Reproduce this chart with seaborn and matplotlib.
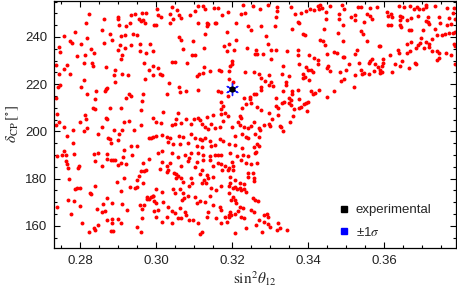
import matplotlib
matplotlib.use("Agg")
import matplotlib.pyplot as plt
import numpy as np
import pandas as pd
import seaborn as sns
from matplotlib.lines import Line2D
from matplotlib.ticker import MultipleLocator

# ---- data: (sin^2 theta12, delta_CP in degrees) ----
pts_top_left = [
    (0.2823, 249.9), (0.2815, 245.9), (0.2864, 247.4), (0.2899, 248.5), (0.2901, 247.4), (0.2904, 244.9),
    (0.2920, 244.8), (0.2931, 245.9), (0.2935, 249.1), (0.2945, 249.9), (0.2960, 246.8), (0.2956, 247.4),
    (0.2964, 250.2), (0.2973, 250.2), (0.2966, 247.1), (0.2971, 245.9), (0.2995, 244.9), (0.2859, 242.8),
    (0.2879, 241.4), (0.2907, 240.6), (0.2918, 240.8), (0.2939, 241.3), (0.2949, 241.0), (0.2934, 236.7),
    (0.2958, 237.1), (0.2984, 237.1), (0.2758, 240.6), (0.2786, 242.1), (0.2819, 239.6), (0.2773, 238.1),
    (0.2778, 237.4), (0.2802, 237.1), (0.2745, 235.9), (0.2748, 233.7), (0.2828, 235.0), (0.2837, 233.0),
    (0.2793, 231.8), (0.2813, 232.2), (0.2864, 237.4), (0.2885, 238.6), (0.2905, 236.4), (0.2900, 234.5),
    (0.2919, 235.3), (0.2910, 232.2), (0.2907, 230.6), (0.2957, 234.0), (0.2974, 233.2), (0.2993, 234.0),
    (0.2810, 228.9), (0.2833, 228.8), (0.2835, 227.8), (0.2767, 228.1), (0.2737, 228.1), (0.2746, 224.1),
    (0.2773, 224.4), (0.2759, 226.4), (0.2812, 221.6), (0.2870, 227.2), (0.2892, 226.1), (0.2890, 223.8),
    (0.2910, 224.4), (0.2927, 223.7), (0.2892, 220.8), (0.2971, 222.3), (0.2982, 225.9), (0.2992, 227.5),
    (0.2992, 223.8), (0.2969, 229.1),
]
pts_top_mid = [
    (0.3004, 251.9), (0.3043, 252.5), (0.3056, 251.5), (0.3036, 249.9), (0.3006, 249.1), (0.3012, 248.4),
    (0.3061, 249.1), (0.3067, 248.2), (0.3046, 247.6), (0.3090, 249.3), (0.3104, 251.0), (0.3110, 253.0),
    (0.3124, 253.0), (0.3128, 251.9), (0.3152, 252.2), (0.3164, 252.3), (0.3175, 249.3), (0.3190, 250.6),
    (0.3228, 253.5), (0.3223, 249.9), (0.3235, 250.2), (0.3255, 253.0), (0.3038, 245.9), (0.3110, 245.9),
    (0.3134, 245.9), (0.3137, 245.4), (0.3135, 244.8), (0.3156, 245.7), (0.3159, 245.7), (0.3210, 245.9),
    (0.3242, 244.8), (0.3250, 243.1), (0.2999, 245.1), (0.3129, 241.4), (0.3186, 242.0), (0.3061, 240.0),
    (0.3065, 238.9), (0.3097, 238.1), (0.3180, 236.3), (0.3192, 236.9), (0.3211, 238.9), (0.3126, 235.2),
    (0.3071, 234.7), (0.3186, 234.0), (0.3204, 234.3), (0.3239, 235.2), (0.3260, 232.9), (0.3096, 232.2),
    (0.3103, 232.2), (0.3041, 229.3), (0.3050, 229.3), (0.3082, 228.9), (0.3199, 229.8), (0.3201, 228.5),
    (0.3194, 227.6), (0.3005, 226.7), (0.3127, 227.1), (0.3112, 224.5), (0.3108, 223.4), (0.3125, 224.7),
    (0.3143, 225.5), (0.3166, 225.8), (0.3170, 225.7), (0.3192, 225.7), (0.3235, 225.2), (0.3257, 225.2),
    (0.3010, 224.2), (0.3017, 223.7), (0.3035, 220.4), (0.3192, 222.1), (0.3203, 221.0),
]
pts_top_right = [
    (0.3294, 253.5), (0.3318, 252.6), (0.3274, 251.8), (0.3319, 250.8), (0.3317, 248.6), (0.3354, 252.5),
    (0.3366, 249.9), (0.3381, 250.3), (0.3395, 251.0), (0.3405, 251.8), (0.3415, 251.6), (0.3427, 252.9),
    (0.3432, 253.5), (0.3430, 252.0), (0.3437, 252.3), (0.3459, 253.0), (0.3488, 253.5), (0.3494, 251.9),
    (0.3482, 249.6), (0.3447, 250.5), (0.3448, 247.6), (0.3481, 247.4), (0.3513, 248.5), (0.3523, 249.1),
    (0.3524, 247.1), (0.3493, 245.1), (0.3373, 246.5), (0.3375, 245.9), (0.3276, 244.8), (0.3314, 244.5),
    (0.3359, 243.4), (0.3388, 241.1), (0.3393, 240.8), (0.3443, 243.4), (0.3479, 241.8), (0.3289, 240.3),
    (0.3294, 237.1), (0.3438, 238.3), (0.3445, 236.6), (0.3432, 238.9), (0.3491, 238.1), (0.3263, 234.6),
    (0.3303, 234.3), (0.3316, 234.3), (0.3345, 234.0), (0.3373, 234.6), (0.3282, 232.9), (0.3265, 232.9),
    (0.3374, 232.3), (0.3403, 232.2), (0.3416, 231.2), (0.3451, 232.9), (0.3469, 233.7), (0.3475, 233.3),
    (0.3491, 231.5), (0.3495, 231.5), (0.3523, 232.9), (0.3302, 230.6), (0.3425, 230.1), (0.3426, 228.6),
    (0.3375, 228.4), (0.3452, 227.5), (0.3451, 226.7), (0.3508, 228.6), (0.3395, 227.2), (0.3399, 226.2),
    (0.3407, 225.9), (0.3386, 224.2), (0.3391, 223.0), (0.3413, 225.2), (0.3458, 225.5), (0.3483, 225.0),
    (0.3500, 226.2), (0.3271, 224.5), (0.3298, 224.0), (0.3333, 227.5), (0.3331, 224.1), (0.3351, 223.4),
    (0.3277, 222.5), (0.3287, 221.3), (0.3302, 220.8), (0.3342, 220.8), (0.3388, 222.4), (0.3403, 221.6),
    (0.3486, 221.3), (0.3494, 222.1), (0.3523, 224.0),
]
pts_far_right = [
    (0.3532, 252.5), (0.3540, 252.5), (0.3564, 252.2), (0.3580, 252.5), (0.3608, 250.6), (0.3611, 248.9),
    (0.3617, 249.6), (0.3620, 248.6), (0.3640, 252.9), (0.3652, 252.7), (0.3667, 253.2), (0.3679, 251.9),
    (0.3687, 252.5), (0.3691, 251.9), (0.3701, 251.9), (0.3709, 253.6), (0.3711, 252.7), (0.3734, 253.0),
    (0.3766, 252.2), (0.3785, 252.2), (0.3780, 250.3), (0.3770, 248.2), (0.3745, 248.5), (0.3564, 248.9),
    (0.3555, 249.6), (0.3568, 247.5), (0.3547, 246.5), (0.3641, 248.9), (0.3647, 248.5), (0.3643, 247.2),
    (0.3661, 247.2), (0.3672, 247.9), (0.3690, 248.8), (0.3716, 248.5), (0.3709, 246.8), (0.3715, 246.5),
    (0.3718, 245.4), (0.3748, 246.1), (0.3609, 245.1), (0.3618, 245.1), (0.3643, 245.1), (0.3645, 244.2),
    (0.3665, 242.8), (0.3672, 242.8), (0.3702, 242.8), (0.3733, 243.2), (0.3766, 244.9), (0.3775, 245.4),
    (0.3786, 247.5), (0.3540, 242.3), (0.3544, 241.1), (0.3555, 238.3), (0.3726, 239.0), (0.3739, 240.7),
    (0.3753, 241.0), (0.3761, 241.4), (0.3770, 241.8), (0.3781, 241.8), (0.3787, 242.1), (0.3698, 239.7),
    (0.3709, 238.0), (0.3718, 236.9), (0.3694, 237.4), (0.3690, 236.7), (0.3659, 236.9), (0.3672, 237.7),
    (0.3590, 236.2), (0.3586, 236.2), (0.3529, 234.3), (0.3637, 234.6), (0.3661, 233.3), (0.3669, 234.0),
    (0.3685, 235.4), (0.3704, 235.4), (0.3719, 235.7), (0.3726, 234.0), (0.3739, 234.0), (0.3744, 233.2),
    (0.3764, 233.3), (0.3786, 236.2), (0.3783, 236.9), (0.3615, 232.2), (0.3640, 233.0), (0.3597, 230.5),
    (0.3568, 230.8), (0.3562, 229.8), (0.3560, 229.1), (0.3535, 229.1), (0.3597, 229.1), (0.3595, 227.5),
    (0.3577, 228.4), (0.3583, 227.2), (0.3589, 226.2), (0.3573, 225.5), (0.3590, 224.8), (0.3595, 225.1),
    (0.3538, 226.2), (0.3547, 224.8), (0.3541, 224.1), (0.3560, 224.2), (0.3646, 229.8), (0.3628, 228.4),
    (0.3641, 227.6), (0.3682, 228.9), (0.3685, 228.4), (0.3665, 227.0), (0.3622, 225.1), (0.3744, 231.2),
    (0.3739, 230.1), (0.3775, 232.3), (0.3786, 228.6),
]
pts_mid_left = [
    (0.2748, 219.7), (0.2743, 218.6), (0.2802, 218.9), (0.2820, 215.7), (0.2842, 216.9), (0.2868, 217.9),
    (0.2872, 218.3), (0.2866, 216.9), (0.2921, 214.0), (0.2929, 215.7), (0.2935, 214.9), (0.2967, 215.7),
    (0.2964, 212.9), (0.2736, 214.0), (0.2840, 213.6), (0.2835, 210.1), (0.2839, 209.4), (0.2879, 210.1),
    (0.2907, 210.1), (0.2962, 209.1), (0.2739, 207.5), (0.2745, 204.1), (0.2736, 202.7), (0.2757, 201.8),
    (0.2800, 204.1), (0.2813, 207.0), (0.2817, 205.4), (0.2820, 201.6), (0.2811, 200.1), (0.2783, 200.6),
    (0.2765, 198.0), (0.2857, 202.0), (0.2848, 199.0), (0.2868, 205.8), (0.2872, 205.4), (0.2890, 200.4),
    (0.2912, 200.6), (0.2903, 198.7), (0.2916, 204.1), (0.2928, 204.4), (0.2960, 202.7), (0.2993, 205.5),
    (0.2986, 197.0), (0.2982, 197.0), (0.2993, 197.6), (0.2942, 200.6), (0.2874, 197.3), (0.2879, 196.9),
    (0.2899, 196.2), (0.2881, 194.9), (0.2783, 194.9), (0.2934, 193.8), (0.2949, 193.8), (0.2916, 192.1),
    (0.2758, 191.6), (0.2763, 189.9), (0.2754, 189.9), (0.2741, 189.5), (0.2785, 190.5), (0.2837, 190.6),
    (0.2848, 190.9), (0.2871, 190.6), (0.2839, 187.4), (0.2872, 188.5), (0.2881, 187.7), (0.2888, 187.7),
    (0.2892, 187.7), (0.2914, 189.2), (0.2938, 190.2), (0.2967, 186.5), (0.2982, 188.5), (0.2763, 187.4),
    (0.2767, 186.3), (0.2798, 185.3), (0.2859, 185.5), (0.2899, 185.7), (0.2907, 186.5), (0.2921, 186.0),
]
pts_mid_center = [
    (0.3030, 216.0), (0.3060, 218.6), (0.3063, 216.7), (0.3080, 217.2), (0.3111, 217.4), (0.3162, 216.9),
    (0.3171, 216.5), (0.3190, 215.0), (0.3232, 214.3), (0.3247, 214.6), (0.3257, 215.7), (0.3018, 208.4),
    (0.3058, 207.9), (0.3054, 205.3), (0.3078, 205.4), (0.3100, 205.3), (0.3111, 205.7), (0.3115, 204.7),
    (0.3133, 206.1), (0.3151, 207.0), (0.3172, 209.4), (0.3177, 210.8), (0.3170, 212.6), (0.3172, 207.5),
    (0.3181, 207.9), (0.3190, 206.5), (0.3221, 206.4), (0.3223, 205.5), (0.3227, 210.1), (0.3236, 211.8),
    (0.3247, 213.6), (0.3251, 212.2), (0.3177, 204.4), (0.2999, 204.1), (0.3013, 203.4), (0.3041, 202.7),
    (0.3051, 203.3), (0.3065, 203.7), (0.3092, 203.0), (0.3120, 203.0), (0.3129, 201.8), (0.3146, 203.3),
    (0.3155, 201.3), (0.3168, 201.8), (0.3199, 201.8), (0.3216, 204.1), (0.3221, 202.6), (0.3232, 201.8),
    (0.3243, 201.6), (0.3251, 202.3), (0.3257, 204.1), (0.3137, 200.9), (0.3000, 198.0), (0.3015, 198.4),
    (0.3028, 197.6), (0.3038, 197.3), (0.3060, 198.0), (0.3072, 197.6), (0.3093, 199.0), (0.3102, 197.3),
    (0.3115, 196.9), (0.3129, 197.0), (0.3142, 195.9), (0.3122, 196.2), (0.3168, 196.6), (0.3177, 195.9),
    (0.3207, 198.0), (0.3227, 198.7), (0.3236, 197.6), (0.3243, 197.0), (0.3260, 198.7), (0.3032, 195.6),
    (0.3045, 194.8), (0.3063, 194.5), (0.3085, 195.2), (0.3107, 193.8), (0.3120, 193.3), (0.3146, 193.6),
    (0.3155, 194.2), (0.3192, 194.5), (0.3207, 194.2), (0.3225, 193.1), (0.3258, 193.3), (0.3006, 190.9),
    (0.3016, 191.6), (0.3041, 190.9), (0.3076, 190.2), (0.3093, 190.9), (0.3111, 190.9), (0.3124, 190.2),
    (0.3142, 189.5), (0.3155, 189.9), (0.3162, 189.9), (0.3172, 190.2), (0.3194, 190.9), (0.3212, 189.5),
    (0.3229, 189.9), (0.3243, 189.5), (0.3260, 190.9), (0.3015, 187.1), (0.3036, 186.7), (0.3057, 189.1),
    (0.3086, 188.8), (0.3085, 187.4), (0.3107, 187.1), (0.3124, 187.7), (0.3142, 187.7), (0.3164, 186.7),
    (0.3172, 186.0), (0.3181, 185.5), (0.3199, 187.1), (0.3223, 187.7), (0.3238, 186.7), (0.3251, 186.3),
    (0.3028, 185.3), (0.3067, 185.3), (0.3150, 185.3), (0.3203, 185.3),
]
pts_mid_right = [
    (0.3276, 218.9), (0.3276, 217.4), (0.3296, 219.7), (0.3307, 219.3), (0.3342, 219.7), (0.3335, 216.9),
    (0.3359, 216.9), (0.3358, 215.7), (0.3373, 217.4), (0.3408, 216.9), (0.3412, 216.0), (0.3419, 216.2),
    (0.3430, 217.4), (0.3469, 216.9), (0.3450, 214.6), (0.3520, 218.6), (0.3263, 215.7), (0.3316, 214.3),
    (0.3351, 214.3), (0.3355, 213.2), (0.3351, 212.2), (0.3377, 213.5), (0.3395, 212.2), (0.3399, 212.6),
    (0.3390, 211.5), (0.3316, 210.8), (0.3320, 210.1), (0.3331, 211.9), (0.3336, 212.6), (0.3355, 211.2),
    (0.3362, 209.6), (0.3375, 209.8), (0.3381, 210.4), (0.3396, 208.7), (0.3267, 210.4), (0.3276, 208.9),
    (0.3298, 207.9), (0.3320, 207.0), (0.3361, 206.4), (0.3304, 205.1), (0.3353, 204.0), (0.3298, 203.0),
    (0.3301, 202.3), (0.3283, 202.7), (0.3326, 202.3), (0.3330, 202.0), (0.3335, 200.1), (0.3270, 201.3),
    (0.3274, 200.7), (0.3272, 197.6), (0.3267, 194.8), (0.3272, 193.8), (0.3263, 191.4), (0.3265, 186.7),
]
pts_low_left = [
    (0.2769, 184.3), (0.2796, 184.4), (0.2771, 179.7), (0.2786, 175.5), (0.2792, 175.9), (0.2800, 176.2),
    (0.2839, 176.9), (0.2827, 174.1), (0.2828, 173.4), (0.2769, 171.1), (0.2785, 170.5), (0.2800, 168.4),
    (0.2741, 168.0), (0.2776, 165.1), (0.2805, 161.3), (0.2844, 167.0), (0.2857, 166.0), (0.2865, 166.3),
    (0.2861, 169.1), (0.2872, 171.9), (0.2885, 169.8), (0.2897, 178.5), (0.2916, 180.2), (0.2909, 174.8),
    (0.2932, 176.5), (0.2912, 169.4), (0.2925, 166.5), (0.2945, 175.9), (0.2949, 176.6), (0.2951, 179.3),
    (0.2956, 181.0), (0.2960, 183.3), (0.2969, 183.3), (0.2973, 183.6), (0.2966, 178.2), (0.2976, 172.2),
    (0.2976, 171.2), (0.2982, 171.2), (0.2986, 172.2), (0.2993, 172.5), (0.2995, 170.5), (0.2995, 166.3),
    (0.2958, 168.8), (0.2969, 168.8), (0.2963, 167.0), (0.2964, 163.4), (0.2872, 162.3), (0.2885, 162.7),
    (0.2885, 161.3), (0.2900, 162.7), (0.2909, 161.3), (0.2848, 160.3), (0.2837, 158.9), (0.2839, 158.3),
    (0.2824, 157.3), (0.2883, 158.0), (0.2888, 158.0), (0.2960, 157.3), (0.2951, 159.5),
]
pts_low_center = [
    (0.3010, 184.0), (0.3028, 183.0), (0.3032, 183.7), (0.3048, 182.5), (0.3052, 182.0), (0.3054, 180.1),
    (0.3058, 181.1), (0.3067, 180.1), (0.3070, 178.7), (0.3102, 184.8), (0.3093, 180.1), (0.3096, 178.3),
    (0.3087, 176.9), (0.3121, 183.7), (0.3115, 182.0), (0.3126, 179.4), (0.3122, 178.3), (0.3133, 181.5),
    (0.3137, 180.1), (0.3150, 180.6), (0.3175, 183.7), (0.3190, 183.7), (0.3146, 175.9), (0.3157, 175.2),
    (0.3142, 172.6), (0.3131, 178.0), (0.3172, 176.9), (0.3194, 178.0), (0.3001, 175.4), (0.3015, 174.5),
    (0.3045, 175.4), (0.3050, 173.7), (0.3063, 175.4), (0.3070, 173.7), (0.3073, 171.6), (0.3069, 170.9),
    (0.3085, 172.6), (0.3102, 172.3), (0.3115, 170.6), (0.3107, 169.5), (0.3129, 170.2), (0.3150, 168.8),
    (0.3168, 168.1), (0.3172, 166.7), (0.3194, 165.9), (0.3192, 164.5), (0.3181, 163.8), (0.2993, 172.6),
    (0.3001, 169.5), (0.3006, 166.7), (0.3019, 170.2), (0.3032, 168.1), (0.3041, 166.4), (0.3050, 165.5),
    (0.3063, 167.4), (0.3076, 165.9), (0.3080, 164.5), (0.3067, 163.1), (0.3086, 162.4), (0.3098, 162.4),
    (0.3111, 161.0), (0.3115, 156.7), (0.3120, 157.4), (0.3133, 163.8), (0.3137, 165.9), (0.3159, 163.1),
    (0.3172, 161.0), (0.3186, 161.7), (0.3028, 163.8), (0.3043, 161.0), (0.3058, 163.1), (0.3001, 163.8),
    (0.3015, 161.7),
]
pts_low_right = [
    (0.3193, 184.4), (0.3202, 183.7), (0.3242, 182.5), (0.3255, 182.5), (0.3243, 180.8), (0.3257, 180.1),
    (0.3259, 179.1), (0.3196, 180.6), (0.3207, 179.4), (0.3220, 178.0), (0.3231, 177.7), (0.3193, 176.9),
    (0.3202, 175.9), (0.3208, 176.6), (0.3214, 175.4), (0.3220, 175.9), (0.3224, 175.2), (0.3231, 175.4),
    (0.3237, 174.5), (0.3193, 173.7), (0.3202, 172.3), (0.3198, 170.9), (0.3207, 170.9), (0.3211, 169.8),
    (0.3255, 171.6), (0.3261, 170.9), (0.3268, 170.6), (0.3222, 168.1), (0.3228, 167.4), (0.3215, 166.4),
    (0.3207, 165.2), (0.3198, 164.5), (0.3224, 163.8), (0.3231, 163.1), (0.3191, 163.8), (0.3249, 166.7),
    (0.3259, 165.9), (0.3292, 165.2), (0.3285, 164.5), (0.3294, 163.8), (0.3272, 162.4), (0.3264, 160.3),
    (0.3278, 157.4), (0.3284, 161.7), (0.3294, 160.7), (0.3299, 159.6), (0.3321, 161.3), (0.3319, 158.2),
    (0.3325, 158.9), (0.3345, 158.2), (0.3237, 158.9), (0.3207, 157.0),
]

exp_sin2 = [0.320]
exp_delta = [218.0]
sin2_ticks = [0.28, 0.30, 0.32, 0.34, 0.36]
delta_ticks = [160, 180, 200, 220, 240]
legend_labels = ["experimental", "±1$\\sigma$"]

points = (pts_top_left + pts_top_mid + pts_top_right + pts_far_right + pts_mid_left
          + pts_mid_center + pts_mid_right + pts_low_left + pts_low_center + pts_low_right)
df = pd.DataFrame(points, columns=["sin2_theta12", "delta_cp"])

sns.set_style("ticks")
plt.rcParams["font.family"] = ["Liberation Sans", "DejaVu Sans"]
plt.rcParams["mathtext.fontset"] = "stix"

fig = plt.figure(figsize=(4.57, 2.95), dpi=100)
ax = fig.add_axes([0.1182, 0.1593, 0.8796, 0.8380])

sns.scatterplot(data=df, x="sin2_theta12", y="delta_cp", color="#ff0000", s=8,
                linewidth=0, ax=ax, legend=False, zorder=2)
ax.scatter(exp_sin2, exp_delta, marker=(6, 2, 0), s=75, color="#1a1aff", linewidths=1.0, zorder=3)
ax.scatter(exp_sin2, exp_delta, marker="o", s=20, color="black", linewidths=0, zorder=4)

ax.set_xlim(0.2732, 0.3789)
ax.set_ylim(150.6, 255.3)
ax.set_xticks(sin2_ticks)
ax.set_xticklabels([f"{t:.2f}" for t in sin2_ticks])
ax.set_yticks(delta_ticks)
ax.set_yticklabels([str(t) for t in delta_ticks])
ax.xaxis.set_minor_locator(MultipleLocator(0.005))
ax.yaxis.set_minor_locator(MultipleLocator(5))
ax.tick_params(which="both", direction="in", top=True, right=True, color="black", width=0.8)
ax.tick_params(which="major", length=4.5, labelsize=9.5, pad=5, labelcolor="#222222")
ax.tick_params(which="minor", length=2.5)
for sp in ax.spines.values():
    sp.set_color("black")
    sp.set_linewidth(0.9)

ax.set_xlabel(r"$\mathrm{sin}^2\theta_{12}$", fontsize=11, labelpad=2, color="#222222")
ax.set_ylabel(r"$\delta_{\mathrm{CP}}\,[{}^{\circ}]$", fontsize=11, labelpad=3, color="#222222")

handles = [Line2D([], [], marker="s", linestyle="none", markersize=4.5, color="black"),
           Line2D([], [], marker="s", linestyle="none", markersize=4.5, color="#0000ff")]
ax.legend(handles, legend_labels, loc="lower left", bbox_to_anchor=(0.695, 0.015), frameon=False,
          fontsize=9.5, handlelength=0.8, handletextpad=0.5, labelspacing=0.75, borderaxespad=0)

fig.savefig("out.png", dpi=100)
